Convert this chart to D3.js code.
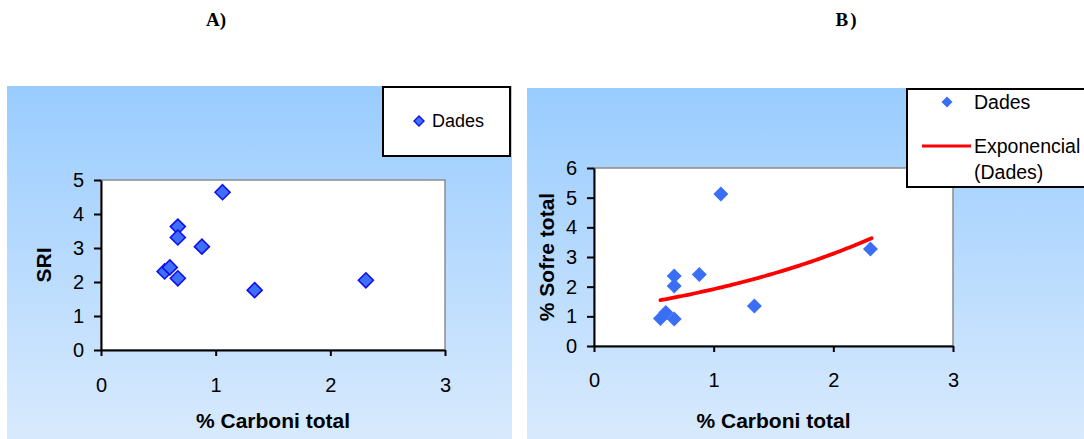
<!DOCTYPE html>
<html>
<head>
<meta charset="utf-8">
<script src="https://cdn.jsdelivr.net/npm/d3@7"></script>
<style>
  body { margin: 0; background: #fff; }
  svg { display: block; font-family: "Liberation Sans", Arial, sans-serif; }
</style>
</head>
<body>
<svg width="1084" height="439"></svg>
<script>
// same samples in both panels
const carboni = [0.555, 0.60, 0.67, 0.67, 0.67, 0.88, 1.06, 1.34, 2.31];
const sri     = [2.31, 2.43, 3.63, 3.31, 2.11, 3.04, 4.64, 1.76, 2.05];
const sofre   = [0.93, 1.13, 2.36, 2.02, 0.91, 2.41, 5.12, 1.35, 3.27];

// exponential trendline: y = a * e^(b*x)
const trendA = 1.18;
const trendB = 0.485;

const xTicks = [0, 1, 2, 3];
const sriTicks = [0, 1, 2, 3, 4, 5];
const sofreTicks = [0, 1, 2, 3, 4, 5, 6];

const svg = d3.select("svg");

const defs = svg.append("defs");
const grad = defs.append("linearGradient")
    .attr("id", "bg").attr("x1", 0).attr("y1", 0).attr("x2", 0).attr("y2", 1);
grad.append("stop").attr("offset", "0%").attr("stop-color", "#99ccff");
grad.append("stop").attr("offset", "100%").attr("stop-color", "#d8eafd");

function diamond(g, x, y, r) {
    return g.append("path")
        .attr("d", `M${x},${y - r}L${x + r},${y}L${x},${y + r}L${x - r},${y}Z`);
}

function drawPanel(p) {
    svg.append("rect")
        .attr("x", p.bg[0]).attr("y", p.bg[1])
        .attr("width", p.bg[2]).attr("height", p.bg[3])
        .attr("fill", "url(#bg)");

    const x = d3.scaleLinear().domain([0, 3]).range([p.left, p.right]);
    const y = d3.scaleLinear().domain(p.yDomain).range([p.bottom, p.top]);

    // plot area
    svg.append("rect")
        .attr("x", p.left).attr("y", p.top)
        .attr("width", p.right - p.left).attr("height", p.bottom - p.top)
        .attr("fill", "#fff").attr("stroke", "#8c8c8c").attr("stroke-width", 1.5);

    const xAxis = svg.append("g")
        .attr("transform", `translate(0,${p.bottom})`)
        .call(d3.axisBottom(x).tickValues(xTicks).tickFormat(d3.format("d"))
            .tickSize(6).tickSizeOuter(0).tickPadding(p.xPad));
    const yAxis = svg.append("g")
        .attr("transform", `translate(${p.left},0)`)
        .call(d3.axisLeft(y).tickValues(p.yTicks).tickFormat(d3.format("d"))
            .tickSize(7).tickSizeOuter(0).tickPadding(10));

    [xAxis, yAxis].forEach(a => {
        a.select(".domain").attr("stroke", "#000").attr("stroke-width", 2);
        a.selectAll(".tick line").attr("stroke", "#000").attr("stroke-width", 2);
        a.selectAll(".tick text").attr("fill", "#000")
            .style("font-size", "20px").style("font-family", "'Liberation Sans', Arial, sans-serif");
    });

    // axis titles
    svg.append("text")
        .attr("x", (p.left + p.right) / 2).attr("y", 428)
        .attr("text-anchor", "middle")
        .style("font-weight", "bold").style("font-size", "21px")
        .text("% Carboni total");
    svg.append("text")
        .attr("transform", `translate(${p.yTitleX},${(p.top + p.bottom) / 2}) rotate(-90)`)
        .attr("text-anchor", "middle")
        .style("font-weight", "bold").style("font-size", "21px")
        .text(p.yTitle);

    return { x, y };
}

// ---- panel A
const A = drawPanel({
    bg: [7, 86, 505, 353],
    left: 101, right: 445, top: 180, bottom: 350,
    yDomain: [0, 5], yTicks: sriTicks, xPad: 22,
    yTitle: "SRI", yTitleX: 51
});

const gA = svg.append("g");
carboni.forEach((c, i) => {
    diamond(gA, A.x(c), A.y(sri[i]), 7.5)
        .attr("fill", "#3f6ff7").attr("stroke", "#1010ee").attr("stroke-width", 1.6);
});

// legend A
svg.append("rect").attr("x", 383).attr("y", 87).attr("width", 127).attr("height", 69)
    .attr("fill", "#fff").attr("stroke", "#000").attr("stroke-width", 2);
diamond(svg, 419, 121, 5).attr("fill", "#3f6ff7").attr("stroke", "#1010ee").attr("stroke-width", 1.4);
svg.append("text").attr("x", 432).attr("y", 127).style("font-size", "18px").text("Dades");

// ---- panel B
const B = drawPanel({
    bg: [527, 88, 557, 351],
    left: 594, right: 953, top: 168, bottom: 346,
    yDomain: [0, 6], yTicks: sofreTicks, xPad: 21,
    yTitle: "% Sofre total", yTitleX: 554
});

const xs = d3.range(d3.min(carboni), 2.32, 0.02).concat([2.32]);
svg.append("path")
    .datum(xs)
    .attr("fill", "none").attr("stroke", "#ff0000").attr("stroke-width", 3.8)
    .attr("stroke-linecap", "round")
    .attr("d", d3.line().x(d => B.x(d)).y(d => B.y(trendA * Math.exp(trendB * d))));

const gB = svg.append("g");
carboni.forEach((c, i) => {
    diamond(gB, B.x(c), B.y(sofre[i]), 7.5).attr("fill", "#3a6ff5");
});

// legend B
svg.append("rect").attr("x", 907).attr("y", 89).attr("width", 190).attr("height", 98)
    .attr("fill", "#fff").attr("stroke", "#000").attr("stroke-width", 2);
diamond(svg, 947, 102, 5.5).attr("fill", "#3a6ff5");
svg.append("text").attr("x", 974).attr("y", 109).style("font-size", "19.5px").text("Dades");
svg.append("line").attr("x1", 922).attr("x2", 971).attr("y1", 146).attr("y2", 146)
    .attr("stroke", "#ff0000").attr("stroke-width", 3);
svg.append("text").attr("x", 974).attr("y", 153).style("font-size", "19.5px").text("Exponencial");
svg.append("text").attr("x", 974).attr("y", 179).style("font-size", "19.5px").text("(Dades)");

// panel labels
svg.append("text").attr("x", 216).attr("y", 26).attr("text-anchor", "middle")
    .style("font-family", "'Liberation Serif', 'Times New Roman', serif")
    .style("font-weight", "bold").style("font-size", "19px").text("A)");
svg.append("text").attr("x", 847).attr("y", 26).attr("text-anchor", "middle")
    .style("font-family", "'Liberation Serif', 'Times New Roman', serif")
    .style("font-weight", "bold").style("font-size", "19px").style("letter-spacing", "2px").text("B)");
</script>
</body>
</html>
